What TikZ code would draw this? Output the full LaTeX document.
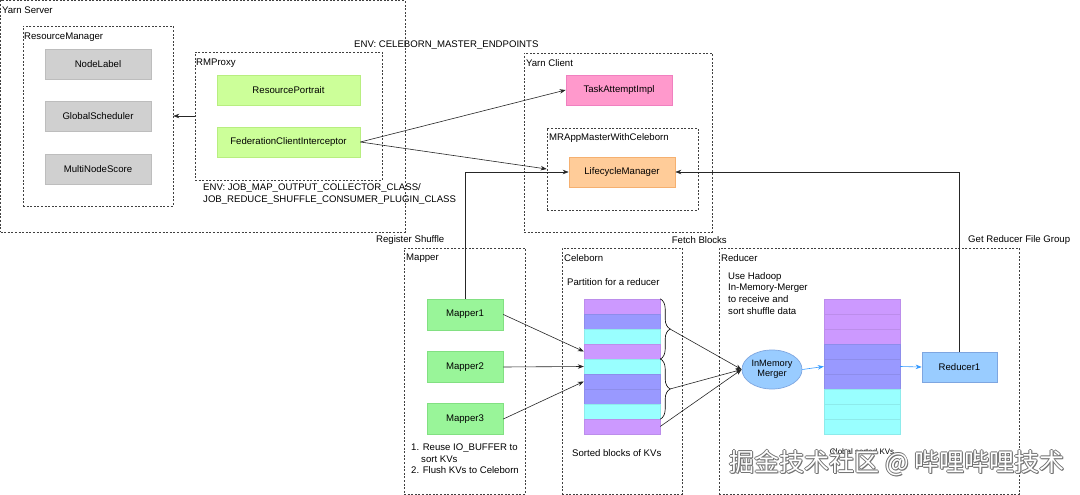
\documentclass[tikz,border=0pt]{standalone}
\usepackage{fontspec}
\setmainfont{Liberation Sans}
\newfontfamily\cjkfont{Noto Sans CJK SC}
\usetikzlibrary{arrows.meta,decorations.pathreplacing,fit,shapes.geometric}
\definecolor{grayfill}{HTML}{D0D0D0}
\definecolor{graydraw}{HTML}{BDBDBD}
\definecolor{limefill}{HTML}{CCFF99}
\definecolor{limedraw}{HTML}{B8EE80}
\definecolor{pinkfill}{HTML}{FF99CC}
\definecolor{pinkdraw}{HTML}{F080C0}
\definecolor{orfill}{HTML}{FFCC99}
\definecolor{ordraw}{HTML}{F5B070}
\definecolor{mapfill}{HTML}{99F599}
\definecolor{mapdraw}{HTML}{82E082}
\definecolor{pu}{HTML}{CC99FF}
\definecolor{bl}{HTML}{9999FF}
\definecolor{cy}{HTML}{99FFFF}
\definecolor{lbfill}{HTML}{99CCFF}
\definecolor{lbdraw}{HTML}{7EA6E0}
\definecolor{arrblue}{HTML}{3399FF}
\begin{document}
\begin{tikzpicture}[x=1pt,y=-1pt,
  font=\fontsize{9.6}{11}\selectfont,
  cont/.style={draw=black!75, dash pattern=on 2pt off 1.6pt, line width=0.6pt, inner sep=0pt},
  lbl/.style={anchor=west, inner sep=0pt},
  cbox/.style={line width=0.7pt, minimum width=#1, minimum height=30pt, inner sep=0pt},
  grbox/.style={cbox=106pt, fill=grayfill, draw=graydraw},
  lmbox/.style={cbox=143pt, fill=limefill, draw=limedraw},
  mpbox/.style={cbox=76pt, minimum height=31pt, fill=mapfill, draw=mapdraw},
  row/.style={minimum width=76pt, minimum height=15pt, inner sep=0pt, line width=0.4pt},
  arr/.style={-{Stealth[length=6pt,width=4.5pt]}, line width=0.6pt, draw=black!85},
  barr/.style={-{Stealth[length=6pt,width=4.5pt]}, line width=0.6pt, draw=arrblue},
  wm/.style={font=\cjkfont\fontsize{25}{25}\selectfont, inner sep=0pt}
]
\useasboundingbox[fill=white] (0,0) rectangle (1080,495);

% containers
\node[cont, fit={(0.5,0.5)(405,232)}] (ys) {};
\node[lbl] (ysl) at (2,10) {Yarn Server};
\node[cont, fit={(23,26)(173,206)}] (rm) {};
\node[lbl] (rml) at (24,37) {ResourceManager};
\node[cont, fit={(195,52)(382,180)}] (rmp) {};
\node[lbl] (rmpl) at (196,63) {RMProxy};
\node[cont, fit={(524,53)(712,232)}] (yc) {};
\node[lbl] (ycl) at (526,63) {Yarn Client};
\node[cont, fit={(547,128)(698,210)}] (mram) {};
\node[lbl] (mraml) at (549,138) {MRAppMasterWithCeleborn};
\node[cont, fit={(404,248)(525,494)}] (mp) {};
\node[lbl] (mpl) at (406,258) {Mapper};
\node[cont, fit={(562,248)(682,494)}] (cb) {};
\node[lbl] (cbl) at (564,258) {Celeborn};
\node[cont, fit={(719,248)(1019,494)}] (rd) {};
\node[lbl] (rdl) at (721,258) {Reducer};

% boxes
\node[grbox] (nl) at (98,64) {NodeLabel};
\node[grbox] (gs) at (98,116) {GlobalScheduler};
\node[grbox] (mns) at (98,169) {MultiNodeScore};
\node[lmbox] (rpt) at (288.5,90) {ResourcePortrait};
\node[lmbox] (fci) at (288.5,142) {FederationClientInterceptor};
\node[cbox=106pt, fill=pinkfill, draw=pinkdraw] (tai) at (619,90) {TaskAttemptImpl};
\node[cbox=106pt, fill=orfill, draw=ordraw] (lcm) at (622,172) {LifecycleManager};
\node[mpbox] (m1) at (465,314.5) {Mapper1};
\node[mpbox] (m2) at (465,367) {Mapper2};
\node[mpbox] (m3) at (465,419) {Mapper3};
\node[cbox=75pt, fill=lbfill, draw=lbdraw] (r1) at (959.5,367) {Reducer1};
\node[ellipse, fill=lbfill, draw=lbdraw, line width=0.7pt, minimum width=60pt, minimum height=39pt, inner sep=0pt, align=center, font=\fontsize{9.2}{10.5}\selectfont] (mg) at (772,369.5) {InMemory\\Merger};

% stacks
\foreach \c [count=\i] in {pu,bl,cy,pu,cy,bl,bl,cy,pu}
  \node[row, fill=\c, draw=\c!92!black] (c\i) at (622,{299+15*\i-7.5}) {};
\foreach \c [count=\i] in {pu,pu,pu,bl,bl,bl,cy,cy,cy}
  \node[row, fill=\c, draw=\c!92!black] (s\i) at (862,{299+15*\i-7.5}) {};

% texts
\node[lbl] (env1) at (354,45) {ENV: CELEBORN\_MASTER\_ENDPOINTS};
\node[anchor=north west, inner sep=0pt, align=left, font=\fontsize{9.6}{12}\selectfont] (env2) at (203,183.5) {ENV: JOB\_MAP\_OUTPUT\_COLLECTOR\_CLASS/\\JOB\_REDUCE\_SHUFFLE\_CONSUMER\_PLUGIN\_CLASS};
\node[lbl] (regs) at (376,240) {Register Shuffle};
\node[anchor=east, inner sep=0pt] (fb) at (727,240) {Fetch Blocks};
\node[lbl] (grfg) at (968,240) {Get Reducer File Group};
\node[lbl] (pfr) at (567,282) {Partition for a reducer};
\node[anchor=north west, inner sep=0pt, align=left, font=\fontsize{9.6}{11.5}\selectfont] (note) at (411,444) {1. Reuse IO\_BUFFER to\\\hspace*{10pt}sort KVs\\2. Flush KVs to Celeborn};
\node[lbl] (sbk) at (572,453) {Sorted blocks of KVs};
\node[anchor=north west, inner sep=0pt, align=left, font=\fontsize{9.6}{11.8}\selectfont] (uh) at (728,272) {Use Hadoop\\In-Memory-Merger\\to receive and\\sort shuffle data};
\node[inner sep=0pt, font=\fontsize{8}{9}\selectfont] (gsk) at (862,452) {Global sorted KVs};

% connectors
\draw[arr] (rmp.west) -- (rm.east);
\draw[arr] (fci.east) -- (tai.west);
\draw[arr] (fci.east) -- (mram.west);
\draw[arr] (m1.north) |- (lcm.west);
\draw[arr] (r1.north) |- (lcm.east);
\draw[arr] (m1.east) -- (c4.west);
\draw[arr] (m2.east) -- (c5.west);
\draw[arr] (m3.east) -- (c6.west);
\draw[line width=0.6pt, decorate, decoration={brace, amplitude=10pt}] (c1.north east) -- (c4.south east);
\draw[line width=0.6pt, decorate, decoration={brace, amplitude=10pt}] (c5.north east) -- (c8.south east);
\coordinate (b1) at (670,329);
\coordinate (b2) at (670,389);
\draw[arr] (b1) -- (mg.west);
\draw[arr] (b2) -- (mg.west);
\draw[arr] (c9.east) -- (mg.west);
\draw[barr] (mg.east) -- (s5.west);
\draw[barr] (s5.east) -- (r1.west);

% watermark
\foreach \dx/\dy [count=\k] in {-0.8/0,0.8/0,0/-0.8,0/0.8,1.2/1.2}
  \node[wm, text=black!55] (wmo\k) at ({897+\dx},{463+\dy}) {掘金技术社区 @ 哔哩哔哩技术};
\node[wm, text=white] (wm) at (897,463) {掘金技术社区 @ 哔哩哔哩技术};
\end{tikzpicture}
\end{document}
